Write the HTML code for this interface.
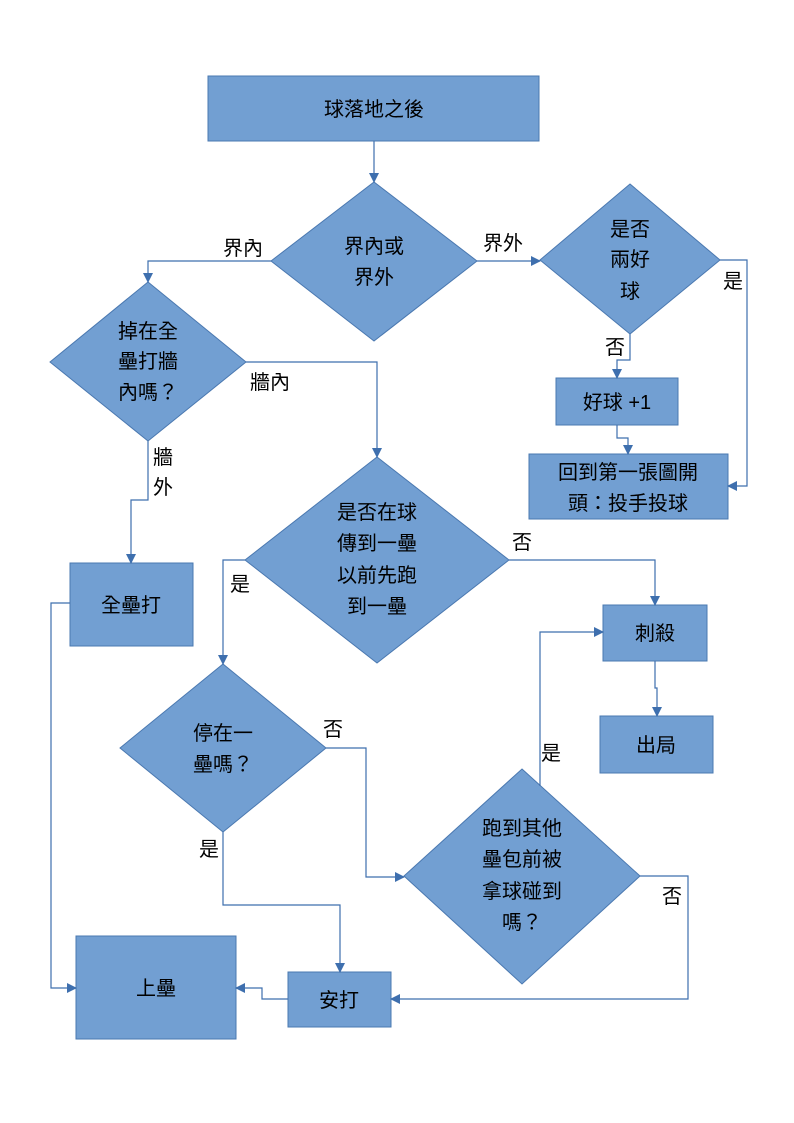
<!DOCTYPE html>
<html><head><meta charset="utf-8"><style>
html,body{margin:0;padding:0;background:#fff;}
svg{display:block;}
text{font-family:"Liberation Sans","Noto Sans CJK TC",sans-serif;font-size:20px;fill:#000;}
</style></head><body>
<svg width="794" height="1123" viewBox="0 0 794 1123" xmlns="http://www.w3.org/2000/svg">
<defs><marker id="a" markerWidth="10" markerHeight="10" refX="9" refY="5" orient="auto" markerUnits="userSpaceOnUse"><path d="M0,0 L10,5 L0,10 z" fill="#3e6fae"/></marker></defs>
<g fill="#729fd2" stroke="#4a78b0" stroke-width="1">
<rect x="208" y="76" width="331" height="65"/>
<polygon points="374,182 477,261 374,341 271,261"/>
<polygon points="630,184 720,260 630,334 540,260"/>
<polygon points="148,282 246,362 148,441 50,362"/>
<rect x="556" y="378" width="122" height="47"/>
<rect x="529" y="454" width="199" height="65"/>
<polygon points="377,457 509,560 377,663 245,560"/>
<rect x="70" y="563" width="123" height="83"/>
<rect x="603" y="605" width="104" height="56"/>
<rect x="600" y="716" width="113" height="57"/>
<polygon points="223,664 326,748 223,832 120,748"/>
<polygon points="522,769 640,876 522,984 404,876"/>
<rect x="76" y="936" width="160" height="103"/>
<rect x="288" y="972" width="103" height="55"/>
</g>
<g fill="none" stroke="#3e6fae" stroke-width="1.2" marker-end="url(#a)">
<path d="M374,141 V182"/>
<path d="M271,261 H148 V282"/>
<path d="M477,261 H540"/>
<path d="M720,260 H747 V486 H728"/>
<path d="M630,334 V360 H617 V378"/>
<path d="M617,425 V438 H628 V454"/>
<path d="M246,362 H377 V457"/>
<path d="M148,441 V500 H131 V563"/>
<path d="M509,560 H655 V605"/>
<path d="M245,560 H223 V664"/>
<path d="M70,603 H51 V988 H76"/>
<path d="M655,661 V688 H657 V716"/>
<path d="M326,748 H366 V877 H404"/>
<path d="M223,832 V905 H340 V972"/>
<path d="M540,786 V632 H603"/>
<path d="M640,876 H688 V999 H391"/>
<path d="M288,999 H262 V988 H236"/>
</g>
<g text-anchor="middle">
<text x="374" y="116">球落地之後</text>
<text x="374" y="253">界內或</text><text x="374" y="284">界外</text>
<text x="630" y="236">是否</text><text x="630" y="266">兩好</text><text x="630" y="298">球</text>
<text x="148" y="338">掉在全</text><text x="148" y="368">壘打牆</text><text x="148" y="399">內嗎？</text>
<text x="617" y="409">好球 +1</text>
<text x="628" y="479">回到第一張圖開</text><text x="628" y="510">頭：投手投球</text>
<text x="377" y="519">是否在球</text><text x="377" y="550">傳到一壘</text><text x="377" y="582">以前先跑</text><text x="377" y="613">到一壘</text>
<text x="131" y="612">全壘打</text>
<text x="655" y="640">刺殺</text>
<text x="656" y="752">出局</text>
<text x="223" y="740">停在一</text><text x="223" y="771">壘嗎？</text>
<text x="522" y="835">跑到其他</text><text x="522" y="866">壘包前被</text><text x="522" y="898">拿球碰到</text><text x="522" y="929">嗎？</text>
<text x="156" y="995">上壘</text>
<text x="339" y="1007">安打</text>
<text x="243" y="255">界內</text>
<text x="503" y="250">界外</text>
<text x="733" y="288">是</text>
<text x="615" y="354">否</text>
<text x="270" y="389">牆內</text>
<text x="163" y="464">牆</text><text x="163" y="494">外</text>
<text x="522" y="549">否</text>
<text x="240" y="591">是</text>
<text x="333" y="736">否</text>
<text x="209" y="856">是</text>
<text x="551" y="760">是</text>
<text x="672" y="903">否</text>
</g>
</svg>
</body></html>
